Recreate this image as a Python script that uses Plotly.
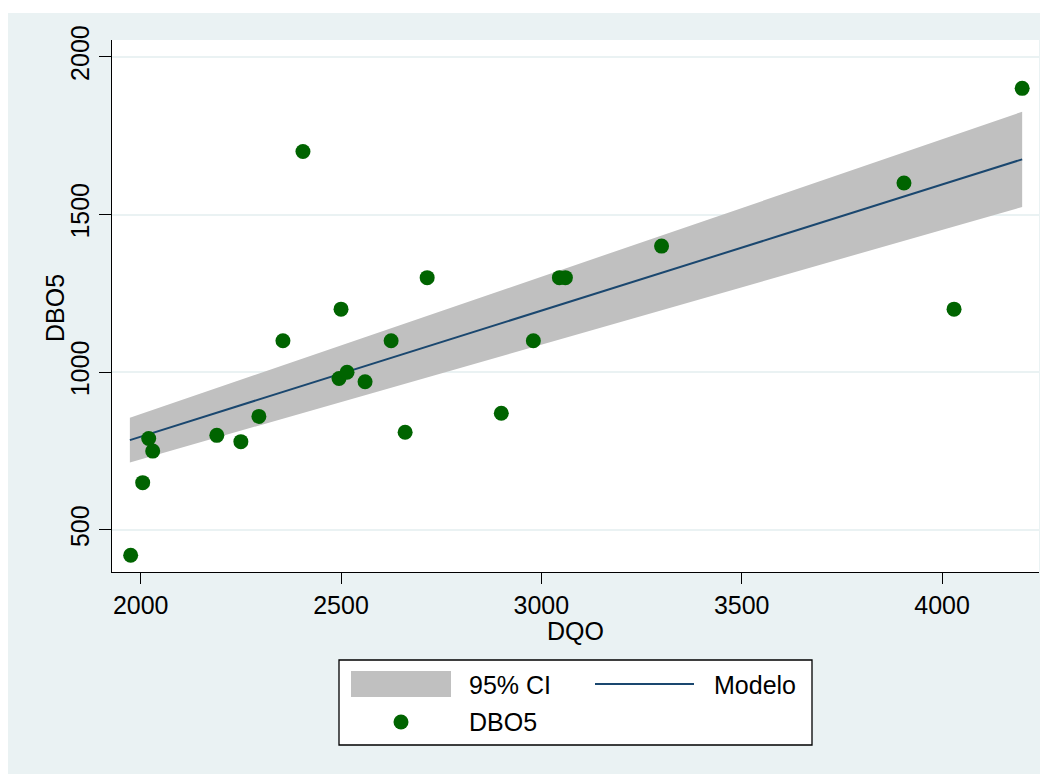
import plotly.graph_objects as go

# ---- data ----
dqo = [1975, 2005, 2020, 2030, 2190, 2250, 2295, 2355, 2405, 2495, 2500, 2515,
       2560, 2625, 2660, 2715, 2900, 2980, 3045, 3060, 3300, 3905, 4030, 4200]
dbo5 = [420, 650, 790, 750, 800, 780, 860, 1100, 1700, 980, 1200, 1000,
        970, 1100, 810, 1300, 870, 1100, 1300, 1300, 1400, 1600, 1200, 1900]

fit_x = [1973, 2400, 2800, 3200, 3600, 4000, 4200]
fit_y = [785, 955, 1115, 1275, 1435, 1595, 1675]
ci_upper = [856, 1041, 1216, 1390, 1564, 1739, 1826]
ci_lower = [714, 869, 1014, 1160, 1306, 1451, 1524]

x_ticks = [2000, 2500, 3000, 3500, 4000]
y_ticks = [500, 1000, 1500, 2000]
legend_labels = ["95% CI", "Modelo", "DBO5"]
x_title = "DQO"
y_title = "DBO5"

BG = "#EAF2F3"
BAND = "#C0C0C0"
NAVY = "#1A476F"
GREEN = "#006400"
FONT = "Liberation Sans, Arial, sans-serif"

OFF = 8  # page body margin
W, H = 1051 - OFF, 774 - OFF
# plot area in screen pixels
SL, SR, ST, SB = 112, 1039, 40, 572
L, R, T, B = SL - OFF, SR - OFF, ST - OFF, SB - OFF


def px(xs):
    """screen x pixel -> paper x"""
    return (xs - SL) / (SR - SL)


def py(ys):
    """screen y pixel -> paper y"""
    return (SB - ys) / (SB - ST)


fig = go.Figure()
fig.add_trace(go.Scatter(x=fit_x, y=ci_lower, mode="lines", line=dict(width=0, color=BAND),
                         showlegend=False, hoverinfo="skip"))
fig.add_trace(go.Scatter(x=fit_x, y=ci_upper, mode="lines", line=dict(width=0, color=BAND),
                         fill="tonexty", fillcolor=BAND, name=legend_labels[0], showlegend=False))
fig.add_trace(go.Scatter(x=fit_x, y=fit_y, mode="lines", line=dict(color=NAVY, width=2),
                         name=legend_labels[1], showlegend=False))
fig.add_trace(go.Scatter(x=dqo, y=dbo5, mode="markers",
                         marker=dict(color=GREEN, size=15, line=dict(width=0)),
                         name=legend_labels[2], showlegend=False))

shapes = [
    # light background panel
    dict(type="rect", xref="paper", yref="paper", x0=px(8), x1=px(1040), y0=py(800), y1=py(13),
         fillcolor=BG, line=dict(width=0), layer="below"),
    # white plot region
    dict(type="rect", xref="paper", yref="paper", x0=0, x1=1, y0=0, y1=1,
         fillcolor="white", line=dict(width=0), layer="below"),
    # legend box
    dict(type="rect", xref="paper", yref="paper", x0=px(339), x1=px(812), y0=py(745), y1=py(660),
         fillcolor="white", line=dict(color="black", width=1.3)),
    # legend swatches
    dict(type="rect", xref="paper", yref="paper", x0=px(351), x1=px(451), y0=py(697), y1=py(671),
         fillcolor=BAND, line=dict(width=0)),
    dict(type="line", xref="paper", yref="paper", x0=px(595), x1=px(694), y0=py(684), y1=py(684),
         line=dict(color=NAVY, width=2)),
    dict(type="circle", xref="paper", yref="paper", x0=px(393.5), x1=px(408.5), y0=py(729.5), y1=py(714.5),
         fillcolor=GREEN, line=dict(width=0)),
]

lab_font = dict(size=25, color="black", family=FONT)
annotations = [
    dict(text=legend_labels[0], xref="paper", yref="paper", x=px(467), y=py(685),
         xanchor="left", yanchor="middle", showarrow=False, font=lab_font),
    dict(text=legend_labels[1], xref="paper", yref="paper", x=px(712), y=py(685),
         xanchor="left", yanchor="middle", showarrow=False, font=lab_font),
    dict(text=legend_labels[2], xref="paper", yref="paper", x=px(467), y=py(722),
         xanchor="left", yanchor="middle", showarrow=False, font=lab_font),
    # y axis title
    dict(text=y_title, xref="paper", yref="paper", x=px(55), y=py(308),
         xanchor="center", yanchor="middle", textangle=-90, showarrow=False, font=lab_font),
    # x axis title
    dict(text=x_title, xref="paper", yref="paper", x=px(575), y=py(631),
         xanchor="center", yanchor="middle", showarrow=False, font=lab_font),
]

fig.update_layout(
    width=W, height=H,
    margin=dict(l=L, r=W - R, t=T, b=H - B, pad=0),
    paper_bgcolor="white",
    plot_bgcolor="white",
    font=dict(family=FONT, size=25, color="black"),
    showlegend=False,
    shapes=shapes,
    annotations=annotations,
    xaxis=dict(
        range=[1928.4, 4242], tickmode="array", tickvals=x_ticks, ticktext=[str(v) for v in x_ticks],
        showgrid=False, zeroline=False, showline=True, linecolor="black", linewidth=1.3,
        ticks="outside", ticklen=11, tickwidth=1.3, tickcolor="black",
        tickfont=dict(size=25, family=FONT),
    ),
    yaxis=dict(
        range=[366.8, 2053.3], tickmode="array", tickvals=y_ticks, ticktext=[str(v) for v in y_ticks],
        showgrid=True, gridcolor=BG, gridwidth=2, zeroline=False,
        showline=True, linecolor="black", linewidth=1.3,
        ticks="outside", ticklen=12, tickwidth=1.3, tickcolor="black", tickangle=-90,
        tickfont=dict(size=25, family=FONT),
    ),
)

fig.write_html("out.html")
